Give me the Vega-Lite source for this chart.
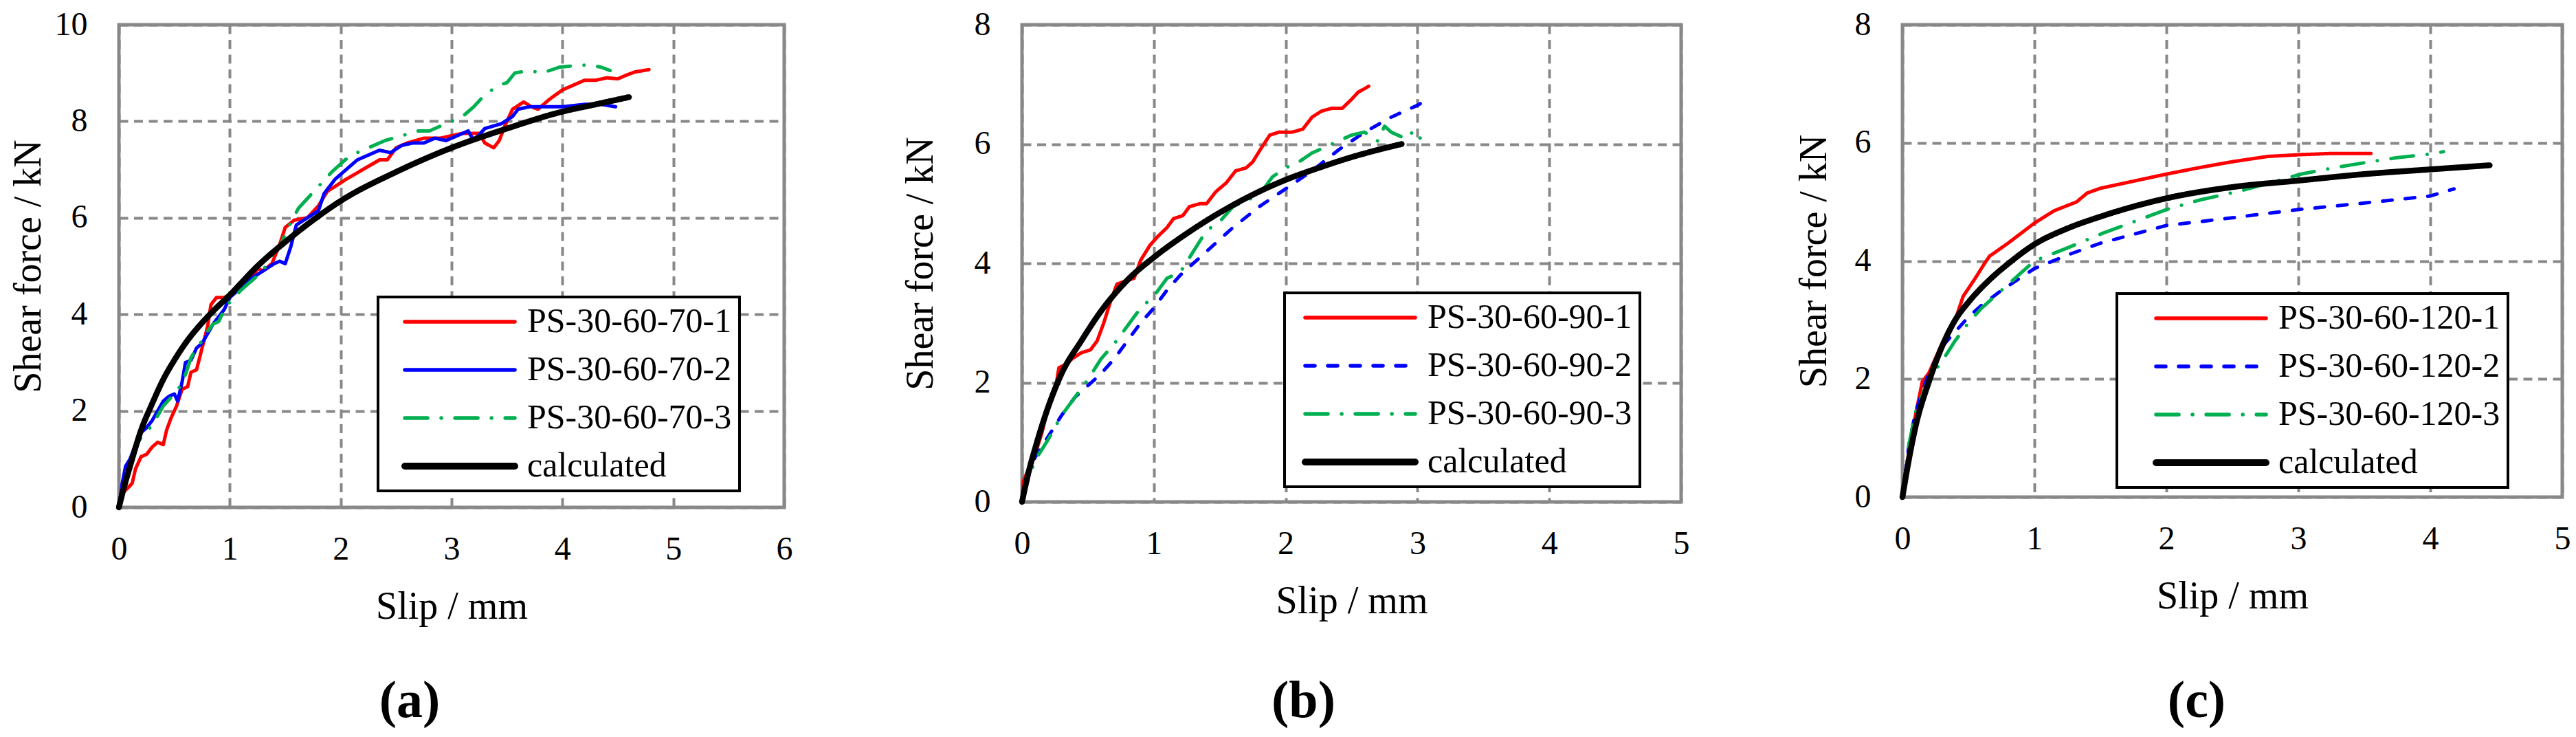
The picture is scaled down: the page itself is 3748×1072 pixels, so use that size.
{
  "$schema": "https://vega.github.io/schema/vega-lite/v6.json",
  "background": "white",
  "padding": {"left": 10, "top": 9, "right": 5, "bottom": 5},
  "config": {
    "view": {"stroke": "#888888", "strokeWidth": 5},
    "axis": {
      "grid": true, "gridColor": "#888888", "gridDash": [13, 8.5], "gridWidth": 4,
      "domain": false, "ticks": false, "tickSize": 0,
      "labelFont": "Liberation Serif", "labelFontSize": 48, "labelColor": "#000000",
      "titleFont": "Liberation Serif", "titleFontSize": 56, "titleFontWeight": "normal", "titleColor": "#000000",
      "labelFlush": false, "labelOverlap": false
    },
    "axisX": {"labelPadding": 37, "titlePadding": 32},
    "axisY": {"labelPadding": 46},
    "title": {"orient": "bottom", "anchor": "middle", "frame": "group", "font": "Liberation Serif", "fontSize": 76, "fontWeight": "bold", "color": "#000000"},
    "legend": {
      "orient": "none", "direction": "vertical", "columns": 1,
      "padding": 11, "rowPadding": 20,
      "title": ".", "titleOrient": "right", "titleFontSize": 1, "titleColor": "#ffffff",
      "symbolType": "M-5,0L5,0", "symbolSize": 1024,
      "labelFont": "Liberation Serif", "labelFontSize": 50, "labelColor": "#000000", "labelLimit": 1000,
      "fillColor": "#ffffff", "strokeColor": "#000000"
    }
  },
  "datasets": {
    "a": [
      {"slip": 0, "force": 0, "series": "PS-30-60-70-1"},
      {"slip": 0.03, "force": 0.3, "series": "PS-30-60-70-1"},
      {"slip": 0.08, "force": 0.4, "series": "PS-30-60-70-1"},
      {"slip": 0.12, "force": 0.5, "series": "PS-30-60-70-1"},
      {"slip": 0.15, "force": 0.8, "series": "PS-30-60-70-1"},
      {"slip": 0.2, "force": 1.05, "series": "PS-30-60-70-1"},
      {"slip": 0.25, "force": 1.1, "series": "PS-30-60-70-1"},
      {"slip": 0.3, "force": 1.25, "series": "PS-30-60-70-1"},
      {"slip": 0.35, "force": 1.35, "series": "PS-30-60-70-1"},
      {"slip": 0.4, "force": 1.3, "series": "PS-30-60-70-1"},
      {"slip": 0.43, "force": 1.6, "series": "PS-30-60-70-1"},
      {"slip": 0.47, "force": 1.85, "series": "PS-30-60-70-1"},
      {"slip": 0.52, "force": 2.1, "series": "PS-30-60-70-1"},
      {"slip": 0.57, "force": 2.45, "series": "PS-30-60-70-1"},
      {"slip": 0.62, "force": 2.5, "series": "PS-30-60-70-1"},
      {"slip": 0.65, "force": 2.8, "series": "PS-30-60-70-1"},
      {"slip": 0.7, "force": 2.85, "series": "PS-30-60-70-1"},
      {"slip": 0.75, "force": 3.3, "series": "PS-30-60-70-1"},
      {"slip": 0.8, "force": 3.75, "series": "PS-30-60-70-1"},
      {"slip": 0.83, "force": 4.2, "series": "PS-30-60-70-1"},
      {"slip": 0.88, "force": 4.35, "series": "PS-30-60-70-1"},
      {"slip": 0.95, "force": 4.35, "series": "PS-30-60-70-1"},
      {"slip": 1.0, "force": 4.4, "series": "PS-30-60-70-1"},
      {"slip": 1.08, "force": 4.55, "series": "PS-30-60-70-1"},
      {"slip": 1.15, "force": 4.65, "series": "PS-30-60-70-1"},
      {"slip": 1.2, "force": 4.75, "series": "PS-30-60-70-1"},
      {"slip": 1.25, "force": 4.95, "series": "PS-30-60-70-1"},
      {"slip": 1.3, "force": 4.9, "series": "PS-30-60-70-1"},
      {"slip": 1.38, "force": 5.05, "series": "PS-30-60-70-1"},
      {"slip": 1.45, "force": 5.45, "series": "PS-30-60-70-1"},
      {"slip": 1.5, "force": 5.8, "series": "PS-30-60-70-1"},
      {"slip": 1.58, "force": 5.95, "series": "PS-30-60-70-1"},
      {"slip": 1.7, "force": 6.0, "series": "PS-30-60-70-1"},
      {"slip": 1.8, "force": 6.25, "series": "PS-30-60-70-1"},
      {"slip": 1.88, "force": 6.55, "series": "PS-30-60-70-1"},
      {"slip": 1.95, "force": 6.65, "series": "PS-30-60-70-1"},
      {"slip": 2.05, "force": 6.8, "series": "PS-30-60-70-1"},
      {"slip": 2.2, "force": 7.0, "series": "PS-30-60-70-1"},
      {"slip": 2.35, "force": 7.2, "series": "PS-30-60-70-1"},
      {"slip": 2.42, "force": 7.2, "series": "PS-30-60-70-1"},
      {"slip": 2.5, "force": 7.45, "series": "PS-30-60-70-1"},
      {"slip": 2.6, "force": 7.55, "series": "PS-30-60-70-1"},
      {"slip": 2.75, "force": 7.65, "series": "PS-30-60-70-1"},
      {"slip": 2.9, "force": 7.65, "series": "PS-30-60-70-1"},
      {"slip": 3.0, "force": 7.7, "series": "PS-30-60-70-1"},
      {"slip": 3.1, "force": 7.75, "series": "PS-30-60-70-1"},
      {"slip": 3.25, "force": 7.75, "series": "PS-30-60-70-1"},
      {"slip": 3.3, "force": 7.55, "series": "PS-30-60-70-1"},
      {"slip": 3.38, "force": 7.45, "series": "PS-30-60-70-1"},
      {"slip": 3.43, "force": 7.6, "series": "PS-30-60-70-1"},
      {"slip": 3.48, "force": 7.9, "series": "PS-30-60-70-1"},
      {"slip": 3.55, "force": 8.25, "series": "PS-30-60-70-1"},
      {"slip": 3.65, "force": 8.4, "series": "PS-30-60-70-1"},
      {"slip": 3.72, "force": 8.3, "series": "PS-30-60-70-1"},
      {"slip": 3.78, "force": 8.25, "series": "PS-30-60-70-1"},
      {"slip": 3.88, "force": 8.45, "series": "PS-30-60-70-1"},
      {"slip": 4.0, "force": 8.65, "series": "PS-30-60-70-1"},
      {"slip": 4.1, "force": 8.75, "series": "PS-30-60-70-1"},
      {"slip": 4.2, "force": 8.85, "series": "PS-30-60-70-1"},
      {"slip": 4.3, "force": 8.85, "series": "PS-30-60-70-1"},
      {"slip": 4.4, "force": 8.9, "series": "PS-30-60-70-1"},
      {"slip": 4.5, "force": 8.88, "series": "PS-30-60-70-1"},
      {"slip": 4.57, "force": 8.95, "series": "PS-30-60-70-1"},
      {"slip": 4.65, "force": 9.02, "series": "PS-30-60-70-1"},
      {"slip": 4.78, "force": 9.07, "series": "PS-30-60-70-1"},
      {"slip": 0, "force": 0, "series": "PS-30-60-70-2"},
      {"slip": 0.03, "force": 0.5, "series": "PS-30-60-70-2"},
      {"slip": 0.06, "force": 0.85, "series": "PS-30-60-70-2"},
      {"slip": 0.1, "force": 1.0, "series": "PS-30-60-70-2"},
      {"slip": 0.15, "force": 1.3, "series": "PS-30-60-70-2"},
      {"slip": 0.2, "force": 1.55, "series": "PS-30-60-70-2"},
      {"slip": 0.25, "force": 1.65, "series": "PS-30-60-70-2"},
      {"slip": 0.3, "force": 1.8, "series": "PS-30-60-70-2"},
      {"slip": 0.35, "force": 2.0, "series": "PS-30-60-70-2"},
      {"slip": 0.4, "force": 2.2, "series": "PS-30-60-70-2"},
      {"slip": 0.45, "force": 2.3, "series": "PS-30-60-70-2"},
      {"slip": 0.5, "force": 2.35, "series": "PS-30-60-70-2"},
      {"slip": 0.53, "force": 2.2, "series": "PS-30-60-70-2"},
      {"slip": 0.57, "force": 2.6, "series": "PS-30-60-70-2"},
      {"slip": 0.6, "force": 3.0, "series": "PS-30-60-70-2"},
      {"slip": 0.65, "force": 3.05, "series": "PS-30-60-70-2"},
      {"slip": 0.7, "force": 3.3, "series": "PS-30-60-70-2"},
      {"slip": 0.75, "force": 3.4, "series": "PS-30-60-70-2"},
      {"slip": 0.8, "force": 3.6, "series": "PS-30-60-70-2"},
      {"slip": 0.85, "force": 3.8, "series": "PS-30-60-70-2"},
      {"slip": 0.9, "force": 3.95, "series": "PS-30-60-70-2"},
      {"slip": 0.95, "force": 4.1, "series": "PS-30-60-70-2"},
      {"slip": 1.0, "force": 4.35, "series": "PS-30-60-70-2"},
      {"slip": 1.1, "force": 4.55, "series": "PS-30-60-70-2"},
      {"slip": 1.2, "force": 4.75, "series": "PS-30-60-70-2"},
      {"slip": 1.3, "force": 4.9, "series": "PS-30-60-70-2"},
      {"slip": 1.4, "force": 5.05, "series": "PS-30-60-70-2"},
      {"slip": 1.45, "force": 5.1, "series": "PS-30-60-70-2"},
      {"slip": 1.5, "force": 5.05, "series": "PS-30-60-70-2"},
      {"slip": 1.55, "force": 5.4, "series": "PS-30-60-70-2"},
      {"slip": 1.6, "force": 5.85, "series": "PS-30-60-70-2"},
      {"slip": 1.7, "force": 6.0, "series": "PS-30-60-70-2"},
      {"slip": 1.8, "force": 6.15, "series": "PS-30-60-70-2"},
      {"slip": 1.85, "force": 6.5, "series": "PS-30-60-70-2"},
      {"slip": 1.95, "force": 6.8, "series": "PS-30-60-70-2"},
      {"slip": 2.05, "force": 7.0, "series": "PS-30-60-70-2"},
      {"slip": 2.15, "force": 7.2, "series": "PS-30-60-70-2"},
      {"slip": 2.25, "force": 7.3, "series": "PS-30-60-70-2"},
      {"slip": 2.35, "force": 7.4, "series": "PS-30-60-70-2"},
      {"slip": 2.45, "force": 7.35, "series": "PS-30-60-70-2"},
      {"slip": 2.55, "force": 7.5, "series": "PS-30-60-70-2"},
      {"slip": 2.65, "force": 7.55, "series": "PS-30-60-70-2"},
      {"slip": 2.75, "force": 7.55, "series": "PS-30-60-70-2"},
      {"slip": 2.85, "force": 7.65, "series": "PS-30-60-70-2"},
      {"slip": 2.95, "force": 7.6, "series": "PS-30-60-70-2"},
      {"slip": 3.05, "force": 7.7, "series": "PS-30-60-70-2"},
      {"slip": 3.15, "force": 7.8, "series": "PS-30-60-70-2"},
      {"slip": 3.2, "force": 7.6, "series": "PS-30-60-70-2"},
      {"slip": 3.3, "force": 7.85, "series": "PS-30-60-70-2"},
      {"slip": 3.45, "force": 7.95, "series": "PS-30-60-70-2"},
      {"slip": 3.55, "force": 8.1, "series": "PS-30-60-70-2"},
      {"slip": 3.6, "force": 8.25, "series": "PS-30-60-70-2"},
      {"slip": 3.7, "force": 8.3, "series": "PS-30-60-70-2"},
      {"slip": 3.8, "force": 8.3, "series": "PS-30-60-70-2"},
      {"slip": 4.0, "force": 8.3, "series": "PS-30-60-70-2"},
      {"slip": 4.2, "force": 8.35, "series": "PS-30-60-70-2"},
      {"slip": 4.35, "force": 8.35, "series": "PS-30-60-70-2"},
      {"slip": 4.48, "force": 8.3, "series": "PS-30-60-70-2"},
      {"slip": 0, "force": 0, "series": "PS-30-60-70-3"},
      {"slip": 0.05, "force": 0.6, "series": "PS-30-60-70-3"},
      {"slip": 0.1, "force": 0.95, "series": "PS-30-60-70-3"},
      {"slip": 0.15, "force": 1.25, "series": "PS-30-60-70-3"},
      {"slip": 0.2, "force": 1.45, "series": "PS-30-60-70-3"},
      {"slip": 0.3, "force": 1.7, "series": "PS-30-60-70-3"},
      {"slip": 0.35, "force": 1.9, "series": "PS-30-60-70-3"},
      {"slip": 0.4, "force": 2.1, "series": "PS-30-60-70-3"},
      {"slip": 0.5, "force": 2.35, "series": "PS-30-60-70-3"},
      {"slip": 0.55, "force": 2.5, "series": "PS-30-60-70-3"},
      {"slip": 0.6, "force": 2.75, "series": "PS-30-60-70-3"},
      {"slip": 0.65, "force": 3.1, "series": "PS-30-60-70-3"},
      {"slip": 0.7, "force": 3.3, "series": "PS-30-60-70-3"},
      {"slip": 0.75, "force": 3.45, "series": "PS-30-60-70-3"},
      {"slip": 0.8, "force": 3.65, "series": "PS-30-60-70-3"},
      {"slip": 0.85, "force": 3.8, "series": "PS-30-60-70-3"},
      {"slip": 0.9, "force": 3.85, "series": "PS-30-60-70-3"},
      {"slip": 0.95, "force": 4.1, "series": "PS-30-60-70-3"},
      {"slip": 1.0, "force": 4.25, "series": "PS-30-60-70-3"},
      {"slip": 1.1, "force": 4.5, "series": "PS-30-60-70-3"},
      {"slip": 1.2, "force": 4.7, "series": "PS-30-60-70-3"},
      {"slip": 1.3, "force": 4.9, "series": "PS-30-60-70-3"},
      {"slip": 1.37, "force": 5.2, "series": "PS-30-60-70-3"},
      {"slip": 1.45, "force": 5.4, "series": "PS-30-60-70-3"},
      {"slip": 1.5, "force": 5.65, "series": "PS-30-60-70-3"},
      {"slip": 1.55, "force": 5.9, "series": "PS-30-60-70-3"},
      {"slip": 1.62, "force": 6.2, "series": "PS-30-60-70-3"},
      {"slip": 1.72, "force": 6.45, "series": "PS-30-60-70-3"},
      {"slip": 1.82, "force": 6.7, "series": "PS-30-60-70-3"},
      {"slip": 1.92, "force": 6.95, "series": "PS-30-60-70-3"},
      {"slip": 2.04, "force": 7.2, "series": "PS-30-60-70-3"},
      {"slip": 2.1, "force": 7.3, "series": "PS-30-60-70-3"},
      {"slip": 2.25, "force": 7.45, "series": "PS-30-60-70-3"},
      {"slip": 2.4, "force": 7.6, "series": "PS-30-60-70-3"},
      {"slip": 2.55, "force": 7.7, "series": "PS-30-60-70-3"},
      {"slip": 2.7, "force": 7.8, "series": "PS-30-60-70-3"},
      {"slip": 2.8, "force": 7.8, "series": "PS-30-60-70-3"},
      {"slip": 2.9, "force": 7.9, "series": "PS-30-60-70-3"},
      {"slip": 3.0, "force": 8.0, "series": "PS-30-60-70-3"},
      {"slip": 3.1, "force": 8.1, "series": "PS-30-60-70-3"},
      {"slip": 3.2, "force": 8.3, "series": "PS-30-60-70-3"},
      {"slip": 3.3, "force": 8.55, "series": "PS-30-60-70-3"},
      {"slip": 3.43, "force": 8.75, "series": "PS-30-60-70-3"},
      {"slip": 3.5, "force": 8.8, "series": "PS-30-60-70-3"},
      {"slip": 3.57, "force": 9.0, "series": "PS-30-60-70-3"},
      {"slip": 3.7, "force": 9.05, "series": "PS-30-60-70-3"},
      {"slip": 3.82, "force": 9.0, "series": "PS-30-60-70-3"},
      {"slip": 3.97, "force": 9.12, "series": "PS-30-60-70-3"},
      {"slip": 4.1, "force": 9.15, "series": "PS-30-60-70-3"},
      {"slip": 4.24, "force": 9.17, "series": "PS-30-60-70-3"},
      {"slip": 4.35, "force": 9.12, "series": "PS-30-60-70-3"},
      {"slip": 4.43, "force": 9.05, "series": "PS-30-60-70-3"},
      {"slip": 0, "force": 0, "series": "calculated"},
      {"slip": 0.05, "force": 0.45, "series": "calculated"},
      {"slip": 0.1, "force": 0.85, "series": "calculated"},
      {"slip": 0.2, "force": 1.6, "series": "calculated"},
      {"slip": 0.3, "force": 2.15, "series": "calculated"},
      {"slip": 0.4, "force": 2.65, "series": "calculated"},
      {"slip": 0.5, "force": 3.05, "series": "calculated"},
      {"slip": 0.6, "force": 3.4, "series": "calculated"},
      {"slip": 0.8, "force": 3.95, "series": "calculated"},
      {"slip": 1.0, "force": 4.4, "series": "calculated"},
      {"slip": 1.25, "force": 5.0, "series": "calculated"},
      {"slip": 1.5, "force": 5.5, "series": "calculated"},
      {"slip": 1.75, "force": 5.95, "series": "calculated"},
      {"slip": 2.0, "force": 6.35, "series": "calculated"},
      {"slip": 2.5, "force": 6.95, "series": "calculated"},
      {"slip": 3.0, "force": 7.45, "series": "calculated"},
      {"slip": 3.5, "force": 7.85, "series": "calculated"},
      {"slip": 4.0, "force": 8.2, "series": "calculated"},
      {"slip": 4.3, "force": 8.35, "series": "calculated"},
      {"slip": 4.6, "force": 8.5, "series": "calculated"}
    ],
    "b": [
      {"slip": 0, "force": 0, "series": "PS-30-60-90-1"},
      {"slip": 0.01, "force": 0.35, "series": "PS-30-60-90-1"},
      {"slip": 0.05, "force": 0.55, "series": "PS-30-60-90-1"},
      {"slip": 0.1, "force": 0.8, "series": "PS-30-60-90-1"},
      {"slip": 0.15, "force": 1.15, "series": "PS-30-60-90-1"},
      {"slip": 0.2, "force": 1.6, "series": "PS-30-60-90-1"},
      {"slip": 0.25, "force": 1.85, "series": "PS-30-60-90-1"},
      {"slip": 0.28, "force": 2.25, "series": "PS-30-60-90-1"},
      {"slip": 0.33, "force": 2.3, "series": "PS-30-60-90-1"},
      {"slip": 0.38, "force": 2.4, "series": "PS-30-60-90-1"},
      {"slip": 0.45, "force": 2.5, "series": "PS-30-60-90-1"},
      {"slip": 0.52, "force": 2.55, "series": "PS-30-60-90-1"},
      {"slip": 0.57, "force": 2.7, "series": "PS-30-60-90-1"},
      {"slip": 0.62, "force": 3.0, "series": "PS-30-60-90-1"},
      {"slip": 0.67, "force": 3.35, "series": "PS-30-60-90-1"},
      {"slip": 0.72, "force": 3.65, "series": "PS-30-60-90-1"},
      {"slip": 0.78, "force": 3.7, "series": "PS-30-60-90-1"},
      {"slip": 0.85, "force": 3.75, "series": "PS-30-60-90-1"},
      {"slip": 0.9, "force": 4.05, "series": "PS-30-60-90-1"},
      {"slip": 0.97, "force": 4.3, "series": "PS-30-60-90-1"},
      {"slip": 1.03, "force": 4.45, "series": "PS-30-60-90-1"},
      {"slip": 1.1, "force": 4.6, "series": "PS-30-60-90-1"},
      {"slip": 1.15, "force": 4.75, "series": "PS-30-60-90-1"},
      {"slip": 1.22, "force": 4.8, "series": "PS-30-60-90-1"},
      {"slip": 1.27, "force": 4.95, "series": "PS-30-60-90-1"},
      {"slip": 1.35, "force": 5.0, "series": "PS-30-60-90-1"},
      {"slip": 1.4, "force": 5.0, "series": "PS-30-60-90-1"},
      {"slip": 1.47, "force": 5.2, "series": "PS-30-60-90-1"},
      {"slip": 1.55, "force": 5.35, "series": "PS-30-60-90-1"},
      {"slip": 1.62, "force": 5.55, "series": "PS-30-60-90-1"},
      {"slip": 1.7, "force": 5.6, "series": "PS-30-60-90-1"},
      {"slip": 1.75, "force": 5.7, "series": "PS-30-60-90-1"},
      {"slip": 1.82, "force": 5.95, "series": "PS-30-60-90-1"},
      {"slip": 1.88, "force": 6.15, "series": "PS-30-60-90-1"},
      {"slip": 1.95, "force": 6.2, "series": "PS-30-60-90-1"},
      {"slip": 2.05, "force": 6.2, "series": "PS-30-60-90-1"},
      {"slip": 2.13, "force": 6.25, "series": "PS-30-60-90-1"},
      {"slip": 2.2, "force": 6.45, "series": "PS-30-60-90-1"},
      {"slip": 2.27, "force": 6.55, "series": "PS-30-60-90-1"},
      {"slip": 2.35, "force": 6.6, "series": "PS-30-60-90-1"},
      {"slip": 2.43, "force": 6.6, "series": "PS-30-60-90-1"},
      {"slip": 2.5, "force": 6.75, "series": "PS-30-60-90-1"},
      {"slip": 2.55, "force": 6.87, "series": "PS-30-60-90-1"},
      {"slip": 2.6, "force": 6.93, "series": "PS-30-60-90-1"},
      {"slip": 2.63, "force": 6.97, "series": "PS-30-60-90-1"},
      {"slip": 0, "force": 0, "series": "PS-30-60-90-2"},
      {"slip": 0.05, "force": 0.5, "series": "PS-30-60-90-2"},
      {"slip": 0.1, "force": 0.75, "series": "PS-30-60-90-2"},
      {"slip": 0.2, "force": 1.1, "series": "PS-30-60-90-2"},
      {"slip": 0.3, "force": 1.45, "series": "PS-30-60-90-2"},
      {"slip": 0.4, "force": 1.75, "series": "PS-30-60-90-2"},
      {"slip": 0.5, "force": 1.95, "series": "PS-30-60-90-2"},
      {"slip": 0.6, "force": 2.15, "series": "PS-30-60-90-2"},
      {"slip": 0.7, "force": 2.4, "series": "PS-30-60-90-2"},
      {"slip": 0.8, "force": 2.7, "series": "PS-30-60-90-2"},
      {"slip": 0.9, "force": 3.0, "series": "PS-30-60-90-2"},
      {"slip": 1.0, "force": 3.25, "series": "PS-30-60-90-2"},
      {"slip": 1.1, "force": 3.55, "series": "PS-30-60-90-2"},
      {"slip": 1.2, "force": 3.8, "series": "PS-30-60-90-2"},
      {"slip": 1.4, "force": 4.2, "series": "PS-30-60-90-2"},
      {"slip": 1.6, "force": 4.6, "series": "PS-30-60-90-2"},
      {"slip": 1.8, "force": 4.95, "series": "PS-30-60-90-2"},
      {"slip": 2.0, "force": 5.25, "series": "PS-30-60-90-2"},
      {"slip": 2.2, "force": 5.55, "series": "PS-30-60-90-2"},
      {"slip": 2.4, "force": 5.9, "series": "PS-30-60-90-2"},
      {"slip": 2.6, "force": 6.2, "series": "PS-30-60-90-2"},
      {"slip": 2.8, "force": 6.45, "series": "PS-30-60-90-2"},
      {"slip": 3.0, "force": 6.65, "series": "PS-30-60-90-2"},
      {"slip": 3.1, "force": 6.78, "series": "PS-30-60-90-2"},
      {"slip": 0, "force": 0, "series": "PS-30-60-90-3"},
      {"slip": 0.05, "force": 0.4, "series": "PS-30-60-90-3"},
      {"slip": 0.1, "force": 0.7, "series": "PS-30-60-90-3"},
      {"slip": 0.2, "force": 1.05, "series": "PS-30-60-90-3"},
      {"slip": 0.3, "force": 1.45, "series": "PS-30-60-90-3"},
      {"slip": 0.4, "force": 1.75, "series": "PS-30-60-90-3"},
      {"slip": 0.5, "force": 2.05, "series": "PS-30-60-90-3"},
      {"slip": 0.6, "force": 2.4, "series": "PS-30-60-90-3"},
      {"slip": 0.7, "force": 2.65, "series": "PS-30-60-90-3"},
      {"slip": 0.8, "force": 2.95, "series": "PS-30-60-90-3"},
      {"slip": 0.9, "force": 3.25, "series": "PS-30-60-90-3"},
      {"slip": 1.0, "force": 3.45, "series": "PS-30-60-90-3"},
      {"slip": 1.1, "force": 3.75, "series": "PS-30-60-90-3"},
      {"slip": 1.2, "force": 3.85, "series": "PS-30-60-90-3"},
      {"slip": 1.3, "force": 4.2, "series": "PS-30-60-90-3"},
      {"slip": 1.4, "force": 4.55, "series": "PS-30-60-90-3"},
      {"slip": 1.5, "force": 4.7, "series": "PS-30-60-90-3"},
      {"slip": 1.6, "force": 4.95, "series": "PS-30-60-90-3"},
      {"slip": 1.8, "force": 5.15, "series": "PS-30-60-90-3"},
      {"slip": 1.9, "force": 5.45, "series": "PS-30-60-90-3"},
      {"slip": 2.0, "force": 5.6, "series": "PS-30-60-90-3"},
      {"slip": 2.1, "force": 5.7, "series": "PS-30-60-90-3"},
      {"slip": 2.2, "force": 5.85, "series": "PS-30-60-90-3"},
      {"slip": 2.3, "force": 5.95, "series": "PS-30-60-90-3"},
      {"slip": 2.4, "force": 6.05, "series": "PS-30-60-90-3"},
      {"slip": 2.5, "force": 6.15, "series": "PS-30-60-90-3"},
      {"slip": 2.6, "force": 6.2, "series": "PS-30-60-90-3"},
      {"slip": 2.65, "force": 6.1, "series": "PS-30-60-90-3"},
      {"slip": 2.7, "force": 6.05, "series": "PS-30-60-90-3"},
      {"slip": 2.75, "force": 6.3, "series": "PS-30-60-90-3"},
      {"slip": 2.8, "force": 6.2, "series": "PS-30-60-90-3"},
      {"slip": 2.9, "force": 6.1, "series": "PS-30-60-90-3"},
      {"slip": 2.95, "force": 6.2, "series": "PS-30-60-90-3"},
      {"slip": 3.0, "force": 6.05, "series": "PS-30-60-90-3"},
      {"slip": 3.02, "force": 6.1, "series": "PS-30-60-90-3"},
      {"slip": 0, "force": 0, "series": "calculated"},
      {"slip": 0.05, "force": 0.5, "series": "calculated"},
      {"slip": 0.1, "force": 0.9, "series": "calculated"},
      {"slip": 0.2, "force": 1.6, "series": "calculated"},
      {"slip": 0.3, "force": 2.15, "series": "calculated"},
      {"slip": 0.45, "force": 2.7, "series": "calculated"},
      {"slip": 0.6, "force": 3.2, "series": "calculated"},
      {"slip": 0.8, "force": 3.72, "series": "calculated"},
      {"slip": 1.0, "force": 4.1, "series": "calculated"},
      {"slip": 1.25, "force": 4.5, "series": "calculated"},
      {"slip": 1.5, "force": 4.85, "series": "calculated"},
      {"slip": 1.75, "force": 5.15, "series": "calculated"},
      {"slip": 2.0, "force": 5.4, "series": "calculated"},
      {"slip": 2.25, "force": 5.6, "series": "calculated"},
      {"slip": 2.5, "force": 5.78, "series": "calculated"},
      {"slip": 2.75, "force": 5.93, "series": "calculated"},
      {"slip": 2.88, "force": 6.0, "series": "calculated"}
    ],
    "c": [
      {"slip": 0, "force": 0, "series": "PS-30-60-120-1"},
      {"slip": 0.05, "force": 0.8, "series": "PS-30-60-120-1"},
      {"slip": 0.1, "force": 1.4, "series": "PS-30-60-120-1"},
      {"slip": 0.15, "force": 1.95, "series": "PS-30-60-120-1"},
      {"slip": 0.2, "force": 2.1, "series": "PS-30-60-120-1"},
      {"slip": 0.25, "force": 2.35, "series": "PS-30-60-120-1"},
      {"slip": 0.3, "force": 2.6, "series": "PS-30-60-120-1"},
      {"slip": 0.4, "force": 3.0, "series": "PS-30-60-120-1"},
      {"slip": 0.46, "force": 3.4, "series": "PS-30-60-120-1"},
      {"slip": 0.55, "force": 3.7, "series": "PS-30-60-120-1"},
      {"slip": 0.62, "force": 3.95, "series": "PS-30-60-120-1"},
      {"slip": 0.66, "force": 4.08, "series": "PS-30-60-120-1"},
      {"slip": 0.8, "force": 4.3, "series": "PS-30-60-120-1"},
      {"slip": 1.0, "force": 4.64, "series": "PS-30-60-120-1"},
      {"slip": 1.15, "force": 4.85, "series": "PS-30-60-120-1"},
      {"slip": 1.32, "force": 5.0, "series": "PS-30-60-120-1"},
      {"slip": 1.4, "force": 5.15, "series": "PS-30-60-120-1"},
      {"slip": 1.5, "force": 5.23, "series": "PS-30-60-120-1"},
      {"slip": 1.75, "force": 5.35, "series": "PS-30-60-120-1"},
      {"slip": 2.0, "force": 5.47, "series": "PS-30-60-120-1"},
      {"slip": 2.25, "force": 5.58, "series": "PS-30-60-120-1"},
      {"slip": 2.5, "force": 5.68, "series": "PS-30-60-120-1"},
      {"slip": 2.77, "force": 5.77, "series": "PS-30-60-120-1"},
      {"slip": 3.02, "force": 5.8, "series": "PS-30-60-120-1"},
      {"slip": 3.25, "force": 5.82, "series": "PS-30-60-120-1"},
      {"slip": 3.55, "force": 5.82, "series": "PS-30-60-120-1"},
      {"slip": 0, "force": 0, "series": "PS-30-60-120-2"},
      {"slip": 0.05, "force": 0.9, "series": "PS-30-60-120-2"},
      {"slip": 0.1, "force": 1.45, "series": "PS-30-60-120-2"},
      {"slip": 0.2, "force": 2.1, "series": "PS-30-60-120-2"},
      {"slip": 0.3, "force": 2.55, "series": "PS-30-60-120-2"},
      {"slip": 0.4, "force": 2.8, "series": "PS-30-60-120-2"},
      {"slip": 0.5, "force": 3.05, "series": "PS-30-60-120-2"},
      {"slip": 0.6, "force": 3.25, "series": "PS-30-60-120-2"},
      {"slip": 0.75, "force": 3.5, "series": "PS-30-60-120-2"},
      {"slip": 1.0, "force": 3.87, "series": "PS-30-60-120-2"},
      {"slip": 1.25, "force": 4.1, "series": "PS-30-60-120-2"},
      {"slip": 1.5, "force": 4.3, "series": "PS-30-60-120-2"},
      {"slip": 1.75, "force": 4.45, "series": "PS-30-60-120-2"},
      {"slip": 2.0, "force": 4.6, "series": "PS-30-60-120-2"},
      {"slip": 2.5, "force": 4.73, "series": "PS-30-60-120-2"},
      {"slip": 3.0, "force": 4.87, "series": "PS-30-60-120-2"},
      {"slip": 3.5, "force": 4.98, "series": "PS-30-60-120-2"},
      {"slip": 4.0, "force": 5.1, "series": "PS-30-60-120-2"},
      {"slip": 4.18, "force": 5.22, "series": "PS-30-60-120-2"},
      {"slip": 0, "force": 0, "series": "PS-30-60-120-3"},
      {"slip": 0.05, "force": 0.9, "series": "PS-30-60-120-3"},
      {"slip": 0.1, "force": 1.45, "series": "PS-30-60-120-3"},
      {"slip": 0.2, "force": 2.0, "series": "PS-30-60-120-3"},
      {"slip": 0.3, "force": 2.3, "series": "PS-30-60-120-3"},
      {"slip": 0.4, "force": 2.65, "series": "PS-30-60-120-3"},
      {"slip": 0.5, "force": 2.95, "series": "PS-30-60-120-3"},
      {"slip": 0.6, "force": 3.2, "series": "PS-30-60-120-3"},
      {"slip": 0.75, "force": 3.5, "series": "PS-30-60-120-3"},
      {"slip": 1.0, "force": 4.0, "series": "PS-30-60-120-3"},
      {"slip": 1.25, "force": 4.22, "series": "PS-30-60-120-3"},
      {"slip": 1.53, "force": 4.48, "series": "PS-30-60-120-3"},
      {"slip": 1.75, "force": 4.66, "series": "PS-30-60-120-3"},
      {"slip": 2.0, "force": 4.87, "series": "PS-30-60-120-3"},
      {"slip": 2.25, "force": 5.03, "series": "PS-30-60-120-3"},
      {"slip": 2.57, "force": 5.19, "series": "PS-30-60-120-3"},
      {"slip": 2.75, "force": 5.3, "series": "PS-30-60-120-3"},
      {"slip": 3.02, "force": 5.47, "series": "PS-30-60-120-3"},
      {"slip": 3.25, "force": 5.57, "series": "PS-30-60-120-3"},
      {"slip": 3.52, "force": 5.67, "series": "PS-30-60-120-3"},
      {"slip": 3.75, "force": 5.75, "series": "PS-30-60-120-3"},
      {"slip": 4.0, "force": 5.81, "series": "PS-30-60-120-3"},
      {"slip": 4.1, "force": 5.85, "series": "PS-30-60-120-3"},
      {"slip": 0, "force": 0, "series": "calculated"},
      {"slip": 0.05, "force": 0.65, "series": "calculated"},
      {"slip": 0.1, "force": 1.2, "series": "calculated"},
      {"slip": 0.2, "force": 1.95, "series": "calculated"},
      {"slip": 0.3, "force": 2.55, "series": "calculated"},
      {"slip": 0.4, "force": 3.0, "series": "calculated"},
      {"slip": 0.5, "force": 3.3, "series": "calculated"},
      {"slip": 0.66, "force": 3.68, "series": "calculated"},
      {"slip": 0.8, "force": 3.95, "series": "calculated"},
      {"slip": 1.0, "force": 4.28, "series": "calculated"},
      {"slip": 1.25, "force": 4.55, "series": "calculated"},
      {"slip": 1.5, "force": 4.75, "series": "calculated"},
      {"slip": 1.75, "force": 4.92, "series": "calculated"},
      {"slip": 2.0, "force": 5.06, "series": "calculated"},
      {"slip": 2.5, "force": 5.25, "series": "calculated"},
      {"slip": 3.0, "force": 5.36, "series": "calculated"},
      {"slip": 3.5, "force": 5.47, "series": "calculated"},
      {"slip": 4.0, "force": 5.55, "series": "calculated"},
      {"slip": 4.45, "force": 5.62, "series": "calculated"}
    ]
  },
  "bounds": "flush",
  "spacing": 346,
  "resolve": {"scale": {"color": "independent", "strokeDash": "independent"}, "legend": {"color": "independent", "strokeDash": "independent"}},
  "hconcat": [
    {
      "width": 968, "height": 702,
      "data": {"name": "a"},
      "title": {"text": "(a)", "dx": -61, "offset": 73},
      "encoding": {
        "x": {"field": "slip", "type": "quantitative", "scale": {"domain": [0, 6], "nice": false}, "axis": {"title": "Slip / mm", "values": [0, 1, 2, 3, 4, 5, 6]}},
        "y": {"field": "force", "type": "quantitative", "scale": {"domain": [0, 10], "nice": false}, "axis": {"title": "Shear force / kN", "values": [0, 2, 4, 6, 8, 10], "titlePadding": 9}},
        "color": {"field": "series", "type": "nominal",
          "scale": {"domain": ["PS-30-60-70-1", "PS-30-60-70-2", "PS-30-60-70-3", "calculated"], "range": ["#ff0000", "#0000ff", "#00b050", "#000000"]},
          "legend": {"legendX": 377, "legendY": 396, "symbolOffset": 83, "labelOffset": 73, "titlePadding": 21,
            "encode": {"symbols": {"update": {"strokeCap": {"value": "round"}, "strokeWidth": {"signal": "datum.value === 'calculated' ? 10 : 5.5"}}}, "legend": {"update": {"strokeWidth": {"value": 4}}}}}},
        "strokeDash": {"field": "series", "type": "nominal",
          "scale": {"domain": ["PS-30-60-70-1", "PS-30-60-70-2", "PS-30-60-70-3", "calculated"], "range": [[1, 0], [1, 0], [33, 20, 0.1, 20], [1, 0]]}}
      },
      "layer": [
        {"transform": [{"filter": "datum.series !== 'calculated'"}], "mark": {"type": "line", "strokeWidth": 5, "strokeCap": "round", "strokeJoin": "round"}},
        {"transform": [{"filter": "datum.series === 'calculated'"}], "mark": {"type": "line", "strokeWidth": 8.5, "strokeCap": "round", "interpolate": "monotone"}}
      ]
    },
    {
      "bounds": "flush",
      "spacing": 322,
      "resolve": {"scale": {"color": "independent", "strokeDash": "independent"}, "legend": {"color": "independent", "strokeDash": "independent"}},
      "hconcat": [
        {
          "width": 959, "height": 694,
          "data": {"name": "b"},
          "title": {"text": "(b)", "dx": -70, "offset": 81},
          "encoding": {
            "x": {"field": "slip", "type": "quantitative", "scale": {"domain": [0, 5], "nice": false}, "axis": {"title": "Slip / mm", "values": [0, 1, 2, 3, 4, 5]}},
            "y": {"field": "force", "type": "quantitative", "scale": {"domain": [0, 8], "nice": false}, "axis": {"title": "Shear force / kN", "values": [0, 2, 4, 6, 8], "titlePadding": 49}},
            "color": {"field": "series", "type": "nominal",
              "scale": {"domain": ["PS-30-60-90-1", "PS-30-60-90-2", "PS-30-60-90-3", "calculated"], "range": ["#ff0000", "#0000ff", "#00b050", "#000000"]},
              "legend": {"legendX": 382, "legendY": 390, "symbolOffset": 74, "labelOffset": 73, "titlePadding": 10,
                "encode": {"symbols": {"update": {"strokeCap": {"value": "round"}, "strokeWidth": {"signal": "datum.value === 'calculated' ? 10 : 5.5"}}}, "legend": {"update": {"strokeWidth": {"value": 4}}}}}},
            "strokeDash": {"field": "series", "type": "nominal",
              "scale": {"domain": ["PS-30-60-90-1", "PS-30-60-90-2", "PS-30-60-90-3", "calculated"], "range": [[1, 0], [14, 19], [33, 20, 0.1, 20], [1, 0]]}}
          },
          "layer": [
            {"transform": [{"filter": "datum.series !== 'calculated'"}], "mark": {"type": "line", "strokeWidth": 5, "strokeCap": "round", "strokeJoin": "round"}},
            {"transform": [{"filter": "datum.series === 'calculated'"}], "mark": {"type": "line", "strokeWidth": 8.5, "strokeCap": "round", "interpolate": "monotone"}}
          ]
        },
        {
          "width": 960, "height": 687,
          "data": {"name": "c"},
          "title": {"text": "(c)", "dx": -52, "offset": 88},
          "encoding": {
            "x": {"field": "slip", "type": "quantitative", "scale": {"domain": [0, 5], "nice": false}, "axis": {"title": "Slip / mm", "values": [0, 1, 2, 3, 4, 5]}},
            "y": {"field": "force", "type": "quantitative", "scale": {"domain": [0, 8], "nice": false}, "axis": {"title": "Shear force / kN", "values": [0, 2, 4, 6, 8], "titlePadding": 30}},
            "color": {"field": "series", "type": "nominal",
              "scale": {"domain": ["PS-30-60-120-1", "PS-30-60-120-2", "PS-30-60-120-3", "calculated"], "range": ["#ff0000", "#0000ff", "#00b050", "#000000"]},
              "legend": {"legendX": 312, "legendY": 391, "symbolOffset": 101, "labelOffset": 73, "titlePadding": 43,
                "encode": {"symbols": {"update": {"strokeCap": {"value": "round"}, "strokeWidth": {"signal": "datum.value === 'calculated' ? 10 : 5.5"}}}, "legend": {"update": {"strokeWidth": {"value": 4}}}}}},
            "strokeDash": {"field": "series", "type": "nominal",
              "scale": {"domain": ["PS-30-60-120-1", "PS-30-60-120-2", "PS-30-60-120-3", "calculated"], "range": [[1, 0], [14, 19], [33, 20, 0.1, 20], [1, 0]]}}
          },
          "layer": [
            {"transform": [{"filter": "datum.series !== 'calculated'"}], "mark": {"type": "line", "strokeWidth": 5, "strokeCap": "round", "strokeJoin": "round"}},
            {"transform": [{"filter": "datum.series === 'calculated'"}], "mark": {"type": "line", "strokeWidth": 8.5, "strokeCap": "round", "interpolate": "monotone"}}
          ]
        }
      ]
    }
  ]
}
